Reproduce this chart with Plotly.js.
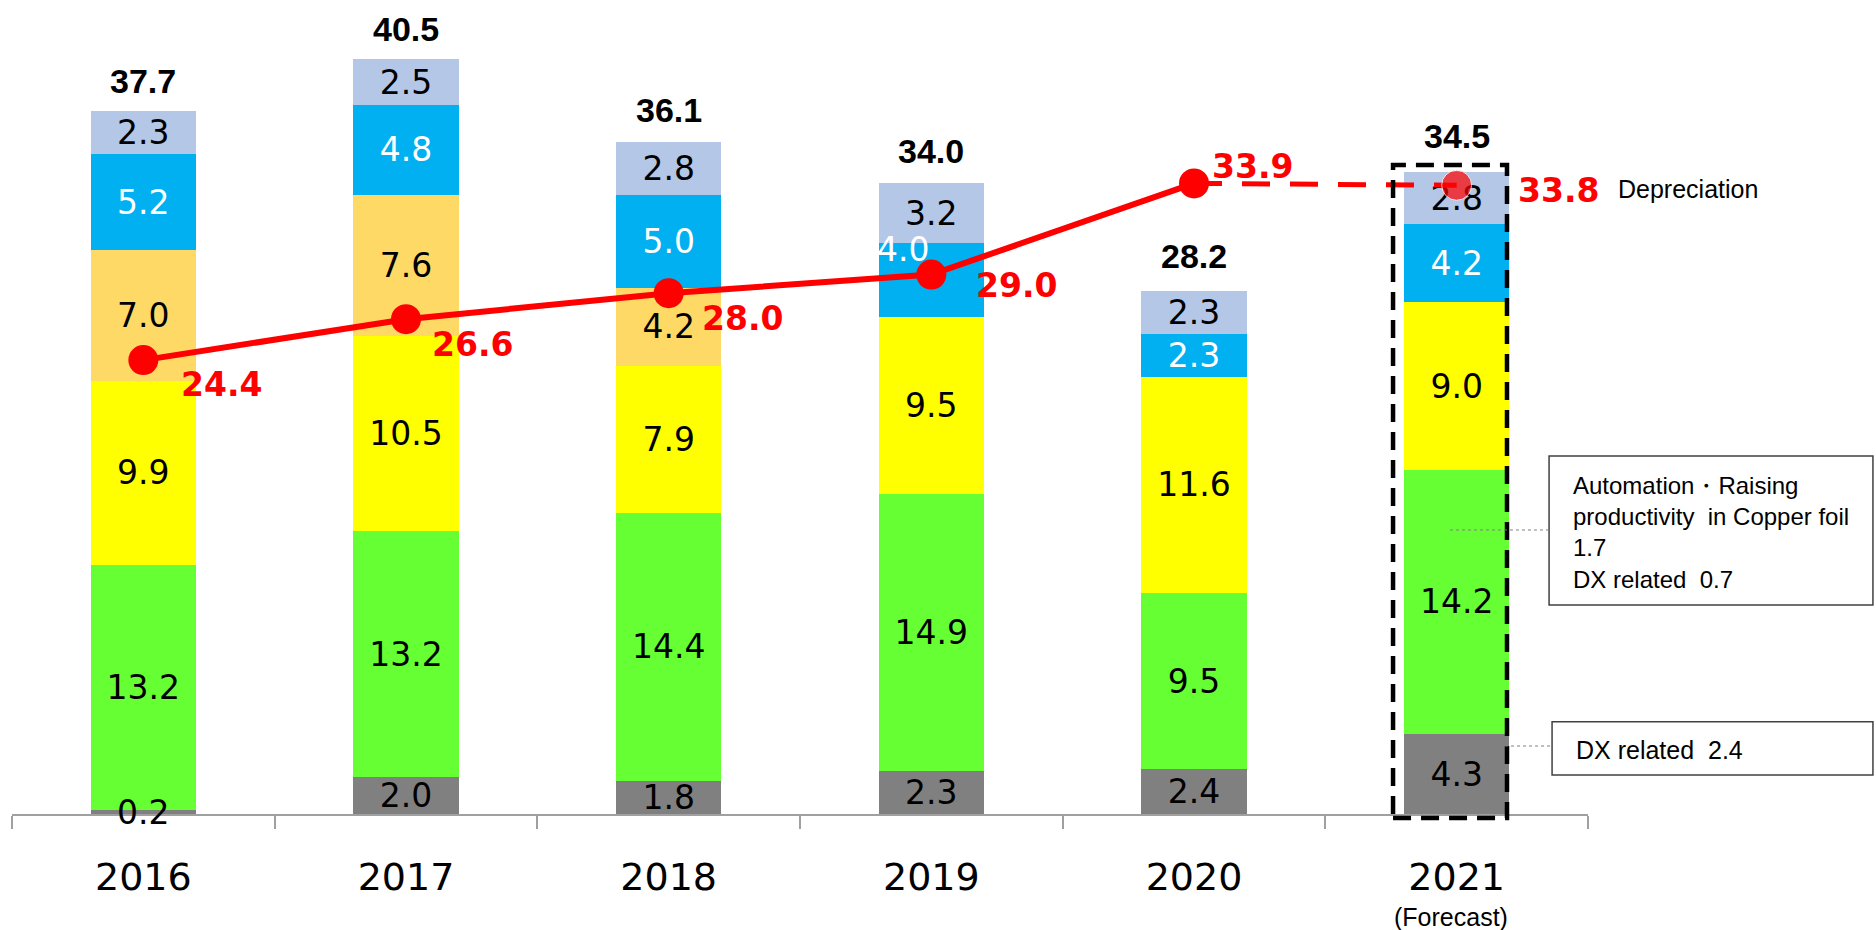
<!DOCTYPE html>
<html>
<head>
<meta charset="utf-8">
<script src="https://cdn.plot.ly/plotly-3.0.1.min.js"></script>
<style>
html,body{margin:0;padding:0;background:#fff;}
#chart{width:1876px;height:930px;}
</style>
</head>
<body>
<div id="chart"></div>
<script>
// ---- data ----
const years = ['2016', '2017', '2018', '2019', '2020', '2021'];
const grayVals = [0.2, 2.0, 1.8, 2.3, 2.4, 4.3];
const greenVals = [13.2, 13.2, 14.4, 14.9, 9.5, 14.2];
const yellowVals = [9.9, 10.5, 7.9, 9.5, 11.6, 9.0];
const orangeVals = [7.0, 7.6, 4.2, null, null, null];
const blueVals = [5.2, 4.8, 5.0, 4.0, 2.3, 4.2];
const lavenderVals = [2.3, 2.5, 2.8, 3.2, 2.3, 2.8];
const totals = [37.7, 40.5, 36.1, 34.0, 28.2, 34.5];
const lineVals = [24.4, 26.6, 28.0, 29.0, 33.9, 33.8];
const forecastNote = '(Forecast)';
const sideLabel = 'Depreciation';
const note1 = 'Automation\u30FBRaising<br>productivity \u00A0in Copper foil<br>1.7<br>DX related \u00A00.7';
const note2 = 'DX related \u00A02.4';

// ---- styles ----
const segFont = 'DejaVu Sans, Verdana, sans-serif';
const fmt = v => (v == null ? '' : v.toFixed(1));
const grayMovedIdx = 0;  // tiny 2016 segment: label drawn over the axis
const blueMovedIdx = 3;  // 2019 label is drawn shifted, as in the reference

function barTrace(vals, color, textColor, skipIdx) {
  return {
    type: 'bar', x: years, y: vals,
    marker: {color: color, line: {width: 0}},
    text: vals.map((v, i) => (i === skipIdx ? '' : fmt(v))),
    textposition: 'inside', insidetextanchor: 'middle',
    textangle: 0, constraintext: 'none',
    textfont: {family: segFont, size: 33, color: textColor},
    hoverinfo: 'skip', cliponaxis: false
  };
}

const traces = [
  barTrace(grayVals, '#808080', '#000000', grayMovedIdx),
  barTrace(greenVals, '#66FF33', '#000000'),
  barTrace(yellowVals, '#FFFF00', '#000000'),
  barTrace(orangeVals, '#FFD966', '#000000'),
  barTrace(blueVals, '#00B0F0', '#FFFFFF', blueMovedIdx),
  barTrace(lavenderVals, '#B4C7E7', '#000000'),
  {
    type: 'scatter', mode: 'lines+markers', x: years,
    y: lineVals.map((v, i) => (i <= 4 ? v : null)),
    line: {color: '#FF0000', width: 6},
    marker: {color: '#FF0000', size: 30},
    hoverinfo: 'skip', cliponaxis: false
  },
  {
    type: 'scatter', mode: 'lines+markers', x: years,
    y: lineVals.map((v, i) => (i >= 4 ? v : null)),
    line: {color: '#FF0000', width: 5, dash: '28px,20px'},
    marker: {color: '#FF0000', size: [0, 0, 0, 0, 0, 30]},
    hoverinfo: 'skip', cliponaxis: false
  }
];

// label offsets (px)
const totalShift = [32, 32, 32, 31, 33, 36];
const lineShiftX = [78, 66, 74, 85, 58, 102];
const lineShiftY = [-24, -25, -25, -11, 17, -5];

const annotations = [];
years.forEach((yr, i) => {
  annotations.push({
    x: i, y: totals[i], xref: 'x', yref: 'y', text: '<b>' + fmt(totals[i]) + '</b>',
    showarrow: false, xanchor: 'center', yanchor: 'middle', yshift: totalShift[i],
    font: {family: 'Liberation Sans, Arial, sans-serif', size: 34, color: '#000'}
  });
  annotations.push({
    x: i, y: lineVals[i], xref: 'x', yref: 'y', text: '<b>' + fmt(lineVals[i]) + '</b>',
    showarrow: false, xanchor: 'center', yanchor: 'middle',
    xshift: lineShiftX[i], yshift: lineShiftY[i],
    font: {family: segFont, size: 33, color: '#FF0000'}
  });
});
// tiny gray label for 2016
annotations.push({
  x: grayMovedIdx, y: grayVals[grayMovedIdx] / 2, xref: 'x', yref: 'y', text: fmt(grayVals[grayMovedIdx]),
  showarrow: false, xanchor: 'center', yanchor: 'middle', yshift: 0,
  font: {family: segFont, size: 33, color: '#000000'}
});
// shifted blue label for 2019
const blueTop = grayVals[blueMovedIdx] + greenVals[blueMovedIdx] + yellowVals[blueMovedIdx]
  + (orangeVals[blueMovedIdx] || 0) + blueVals[blueMovedIdx];
annotations.push({
  x: blueMovedIdx, y: blueTop, xref: 'x', yref: 'y', text: fmt(blueVals[blueMovedIdx]),
  showarrow: false, xanchor: 'center', yanchor: 'middle', xshift: -28, yshift: -7,
  font: {family: segFont, size: 33, color: '#FFFFFF'}
});
annotations.push({
  x: years.length - 1, y: -0.1265, xref: 'x', yref: 'paper', text: forecastNote,
  showarrow: false, xanchor: 'center', yanchor: 'middle', xshift: -6,
  font: {family: 'Liberation Sans, Arial, sans-serif', size: 25, color: '#000'}
});
annotations.push({
  x: 1.0178, y: 0.7678, xref: 'paper', yref: 'paper', text: sideLabel,
  showarrow: false, xanchor: 'left', yanchor: 'middle',
  font: {family: 'Liberation Sans, Arial, sans-serif', size: 25, color: '#000'}
});
annotations.push({
  x: 0.9892, y: 0.3464, xref: 'paper', yref: 'paper', text: note1,
  showarrow: false, xanchor: 'left', yanchor: 'middle', align: 'left',
  font: {family: 'Liberation Sans, Arial, sans-serif', size: 24, color: '#000'}
});
annotations.push({
  x: 0.9911, y: 0.0786, xref: 'paper', yref: 'paper', text: note2,
  showarrow: false, xanchor: 'left', yanchor: 'middle', align: 'left',
  font: {family: 'Liberation Sans, Arial, sans-serif', size: 25, color: '#000'}
});

const shapes = [
  // dashed forecast frame
  {type: 'rect', xref: 'paper', yref: 'paper', x0: 0.8763, x1: 0.9486, y0: -0.0049, y1: 0.7973,
   line: {color: '#000', width: 4.5, dash: '18px,10px'}, fillcolor: 'rgba(0,0,0,0)', layer: 'above'},
  // note boxes
  {type: 'rect', xref: 'paper', yref: 'paper', x0: 0.9753, x1: 1.1808, y0: 0.2568, y1: 0.4398,
   line: {color: '#404040', width: 1.5}, fillcolor: '#FFFFFF', layer: 'above'},
  {type: 'rect', xref: 'paper', yref: 'paper', x0: 0.9772, x1: 1.1808, y0: 0.0479, y1: 0.1134,
   line: {color: '#404040', width: 1.5}, fillcolor: '#FFFFFF', layer: 'above'},
  // leader lines
  {type: 'line', xref: 'paper', yref: 'paper', x0: 0.9124, x1: 0.9753, y0: 0.3489, y1: 0.3489,
   line: {color: '#808080', width: 1, dash: 'dot'}, layer: 'above'},
  {type: 'line', xref: 'paper', yref: 'paper', x0: 0.9131, x1: 0.9772, y0: 0.0835, y1: 0.0835,
   line: {color: '#808080', width: 1, dash: 'dot'}, layer: 'above'}
];

const layout = {
  width: 1876, height: 930,
  margin: {l: 12, r: 288, t: 0, b: 116, pad: 0},
  barmode: 'stack', bargap: 0.6,
  showlegend: false,
  paper_bgcolor: '#FFFFFF', plot_bgcolor: '#FFFFFF',
  xaxis: {
    type: 'category', categoryarray: years, categoryorder: 'array', range: [-0.5, 5.5],
    showline: true, linecolor: '#A0A0A0', linewidth: 2,
    ticks: 'outside', tickson: 'boundaries', ticklen: 13, tickcolor: '#A0A0A0', tickwidth: 2,
    tickfont: {family: segFont, size: 38, color: '#000'},
    ticklabelstandoff: 28, showgrid: false, zeroline: false, fixedrange: true
  },
  yaxis: {range: [0, 43.76], visible: false, showgrid: false, zeroline: false, fixedrange: true},
  shapes: shapes,
  annotations: annotations
};

Plotly.newPlot('chart', traces, layout, {staticPlot: true, displayModeBar: false});
</script>
</body>
</html>
